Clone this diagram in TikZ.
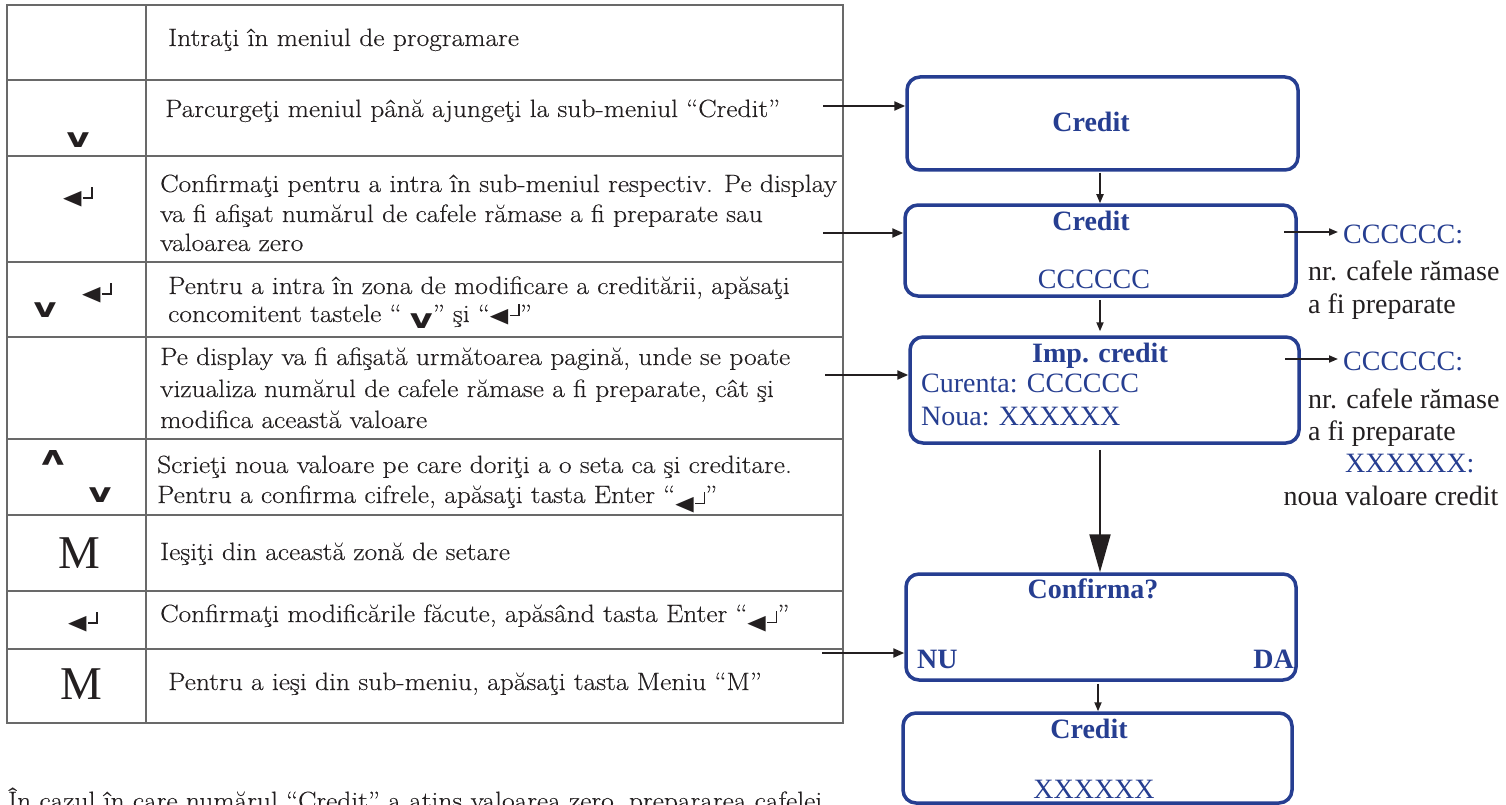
\documentclass[tikz,border=0pt]{standalone}
\usepackage{fontspec}
\setmainfont{Latin Modern Roman}[FakeStretch=1.1,FakeBold=0.3]
\usetikzlibrary{arrows.meta,calc}
\newfontfamily\lib{Liberation Serif}
\newfontfamily\djv{DejaVu Sans}
\definecolor{dblue}{RGB}{38,62,145}
\definecolor{tgray}{RGB}{105,105,105}
\definecolor{ink}{RGB}{35,31,32}
\newcommand\dnk{{\djv\bfseries\fontsize{27}{27}\selectfont\scalebox{1.3}[1]{v}}}
\newcommand\upk{\rotatebox[origin=c]{180}{\dnk}}
\newcommand\entk{{\djv\fontsize{24}{24}\selectfont\scalebox{1}[0.85]{◀}}\kern1.5pt\rule[6pt]{10pt}{1.5pt}\kern-1.5pt\rule[6pt]{1.5pt}{12pt}}
\begin{document}
\begin{tikzpicture}[x=1pt,y=-1pt,
  tline/.style={draw=tgray,line width=1.4pt},
  ttext/.style={anchor=base west,inner sep=0pt,text=ink,font=\fontsize{25}{30}\selectfont},
  sym/.style={inner sep=0pt,anchor=center,text=ink,font=\fontsize{25}{30}\selectfont},
  msym/.style={inner sep=0pt,anchor=center,text=ink,font=\lib\fontsize{47}{47}\selectfont},
  dbox/.style={draw=dblue,line width=3.5pt,rounded corners=13pt,inner sep=0pt},
  btitle/.style={anchor=base,inner sep=0pt,text=dblue,font=\lib\bfseries\fontsize{28}{28}\selectfont},
  btext/.style={anchor=base,inner sep=0pt,text=dblue,font=\lib\fontsize{28}{28}\selectfont},
  atext/.style={anchor=base west,inner sep=0pt,text=ink,font=\lib\fontsize{28}{28}\selectfont},
  larr/.style={draw=ink,line width=2.2pt,-{Triangle[length=11pt,width=9pt]}},
  darr/.style={draw=ink,line width=1.8pt,-{Triangle[length=9pt,width=7pt]}},
  bigarr/.style={draw=ink,line width=2pt,-{Triangle[length=38pt,width=21pt]}}
]
\useasboundingbox (0,0) rectangle (1506,805);
\clip (0,0) rectangle (1506,805);
\fill[white] (0,0) rectangle (1506,805);

% table
\draw[tline] (7,5) rectangle (843,723);
\draw[tline] (146,5) -- (146,723);
\foreach \yy in {80,156,262,337,439,515,591,649} \draw[tline] (7,\yy) -- (843,\yy);

% table texts
\node[ttext] (r1) at (168,46) {Intraţi în meniul de programare};
\node[ttext] (r2) at (165,117) {Parcurgeţi meniul până ajungeţi la sub-meniul “Credit”};
\node[ttext] (r3a) at (160,192) {Confirmaţi pentru a intra în sub-meniul respectiv. Pe display};
\node[ttext] (r3b) at (160,222) {va fi afişat numărul de cafele rămase a fi preparate sau};
\node[ttext] (r3c) at (160,251) {valoarea zero};
\node[ttext] (r4a) at (168,294) {Pentru a intra în zona de modificare a creditării, apăsaţi};
\node[ttext] (r4b) at (168,322) {concomitent tastele “ \raisebox{-6pt}{\dnk}” şi “\entk”};
\node[ttext] (r5a) at (160,365) {Pe display va fi afişată următoarea pagină, unde se poate};
\node[ttext] (r5b) at (160,397) {vizualiza numărul de cafele rămase a fi preparate, cât şi};
\node[ttext] (r5c) at (160,428) {modifica această valoare};
\node[ttext] (r6a) at (157,473) {Scrieţi noua valoare pe care doriţi a o seta ca şi creditare.};
\node[ttext] (r6b) at (157,503) {Pentru a confirma cifrele, apăsaţi tasta Enter “\raisebox{-7pt}{\entk}”};
\node[ttext] (r7) at (160,560) {Ieşiţi din această zonă de setare};
\node[ttext] (r8) at (160,622) {Confirmaţi modificările făcute, apăsând tasta Enter “\raisebox{-7pt}{\entk}”};
\node[ttext] (r9) at (168,690) {Pentru a ieşi din sub-meniu, apăsaţi tasta Meniu “M”};
\node[ttext] (foot) at (8,809) {În cazul în care numărul “Credit” a atins valoarea zero, prepararea cafelei};

% key symbols
\node[sym] (s2) at (78,140) {\dnk};
\node[sym] (s3) at (78,197) {\entk};
\node[sym] (s4a) at (45,310) {\dnk};
\node[sym] (s4b) at (97,293) {\entk};
\node[sym] (s6a) at (53,458) {\upk};
\node[sym] (s6b) at (100,495) {\dnk};
\node[msym] (s7) at (79,553) {M};
\node[sym] (s8) at (83,622) {\entk};
\node[msym] (s9) at (81,684) {M};

% display boxes
\node[dbox,minimum width=391pt,minimum height=93pt] (b1) at (1102.5,123.5) {};
\node[dbox,minimum width=391pt,minimum height=91pt] (b2) at (1100.5,250.5) {};
\node[dbox,minimum width=389pt,minimum height=106pt] (b3) at (1104.5,390) {};
\node[dbox,minimum width=390pt,minimum height=106pt] (b4) at (1101,627) {};
\node[dbox,minimum width=389pt,minimum height=90pt] (b5) at (1097.5,758) {};

\node[btitle] (t1) at (1091,132) {Credit};
\node[btitle] (t2) at (1091,230) {Credit};
\node[btext] (c2) at (1094,288) {CCCCCC};
\node[btitle] (t3) at (1100,362) {Imp. credit};
\node[btext,anchor=base west] (cur) at (921,392) {Curenta: CCCCCC};
\node[btext,anchor=base west] (nou) at (921,425) {Noua: XXXXXX};
\node[btitle] (t4) at (1093,598) {Confirma?};
\node[btitle,anchor=base west] (nu) at (917,668) {NU};
\node[btitle,anchor=base east] (da) at (1294,668) {DA};
\node[btitle] (t5) at (1089,738) {Credit};
\node[btext] (x5) at (1094,798) {XXXXXX};

% right annotations
\node[atext,text=dblue] (ann1) at (1343,243) {CCCCCC:};
\node[atext] (n1a) at (1308,280) {nr. cafele rămase};
\node[atext] (n1b) at (1308,313) {a fi preparate};
\node[atext,text=dblue] (ann2) at (1343,370) {CCCCCC:};
\node[atext] (n2a) at (1308,408) {nr. cafele rămase};
\node[atext] (n2b) at (1308,440) {a fi preparate};
\node[atext,text=dblue] (xx) at (1345,472) {XXXXXX:};
\node[atext,anchor=base] (nv) at (1391,505) {noua valoare credit};

\coordinate (p1) at (1284,232);
\coordinate (p2) at (1285,359);
\draw[darr,shorten >=5pt] (p1) -- (p1 -| ann1.west);
\draw[darr,shorten >=5pt] (p2) -- (p2 -| ann2.west);

% left arrows from table
\coordinate (a1) at (823,106);
\coordinate (a2) at (823,233);
\coordinate (a3) at (825,375);
\coordinate (a4) at (822,653);
\draw[larr] (a1) -- (a1 -| b1.west);
\draw[larr] (a2) -- (a2 -| b2.west);
\draw[larr] (a3) -- (a3 -| b3.west);
\draw[larr] (a4) -- (a4 -| b4.west);

% vertical arrows
\coordinate (vx) at (1100,0);
\coordinate (vy) at (1098,0);
\draw[darr,shorten <=1pt] (vx |- b1.south) -- (vx |- b2.north);
\draw[darr,shorten <=2pt,shorten >=4pt] (vx |- b2.south) -- (vx |- b3.north);
\draw[bigarr,shorten <=5pt] (vx |- b3.south) -- (vx |- b4.north);
\draw[darr,shorten <=2pt] (vy |- b4.south) -- (vy |- b5.north);
\end{tikzpicture}
\end{document}
